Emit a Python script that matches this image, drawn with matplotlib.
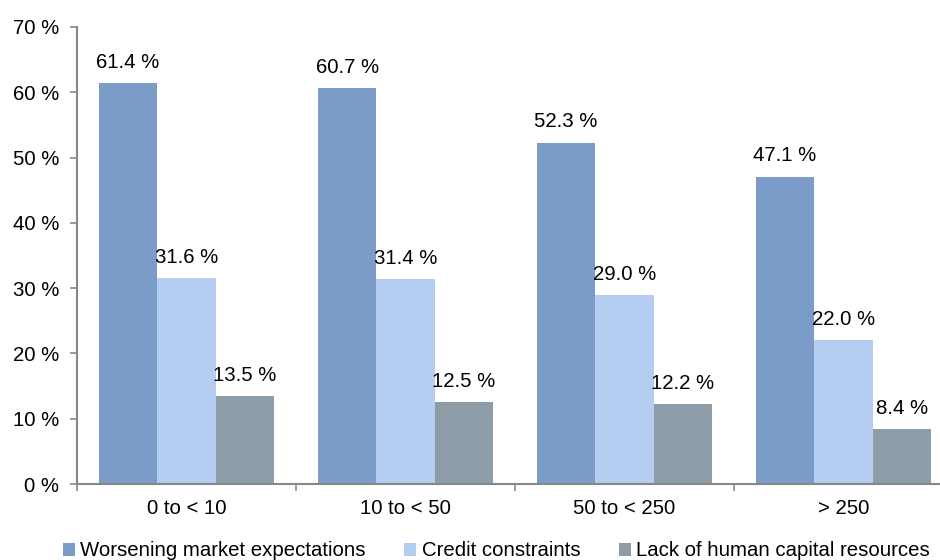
import matplotlib
matplotlib.use("Agg")
import matplotlib.pyplot as plt
from matplotlib.patches import Patch
import numpy as np

plt.rcParams['font.family'] = ['Liberation Sans', 'DejaVu Sans']

categories = ["0 to < 10", "10 to < 50", "50 to < 250", "> 250"]
series_names = ["Worsening market expectations", "Credit constraints", "Lack of human capital resources"]
worsening = [61.4, 60.7, 52.3, 47.1]
credit = [31.6, 31.4, 29.0, 22.0]
human = [13.5, 12.5, 12.2, 8.4]
yticks = [0, 10, 20, 30, 40, 50, 60, 70]

colors = ["#7b9bc9", "#b5cdf1", "#8e9ca7"]
spine_col = "#878787"
fs = 14.7

fig = plt.figure(figsize=(9.4, 5.6), dpi=100)
ax = fig.add_axes([77/940, 76/560, 876/940, 457/560])

x = np.arange(len(categories))
w = 0.2667
for i, (vals, c) in enumerate(zip([worsening, credit, human], colors)):
    pos = x + (i - 1) * w
    ax.bar(pos, vals, width=w, color=c, edgecolor='none')
    for p, v in zip(pos, vals):
        ax.annotate(f"{v:.1f} %", (p, v), xytext=(0, 8), textcoords='offset points',
                    ha='center', va='bottom', fontsize=fs)

ax.set_xlim(-0.5, len(categories) - 0.5)
ax.set_ylim(0, 70)
ax.set_yticks(yticks)
ax.set_yticklabels([f"{t} %" for t in yticks], fontsize=fs)
ax.set_xticks(x)
ax.set_xticklabels(categories, fontsize=fs)
ax.set_xticks(np.arange(len(categories) + 1) - 0.5, minor=True)
ax.tick_params(axis='x', which='major', length=0, pad=11)
ax.tick_params(axis='x', which='minor', length=5, color=spine_col, width=1.2)
ax.tick_params(axis='y', length=5, color=spine_col, width=1.2, pad=8)

for s in ['top', 'right']:
    ax.spines[s].set_visible(False)
for s in ['left', 'bottom']:
    ax.spines[s].set_color(spine_col)
    ax.spines[s].set_linewidth(1.5)

handles = [Patch(facecolor=c, edgecolor='none') for c in colors]
fig.legend(handles, series_names, loc='center', bbox_to_anchor=(0.528, 9/560),
           ncol=3, frameon=False, fontsize=fs, handlelength=0.6, handleheight=0.6,
           handletextpad=0.25, columnspacing=1.9, borderaxespad=0, borderpad=0)

fig.savefig("out.png", dpi=100)
